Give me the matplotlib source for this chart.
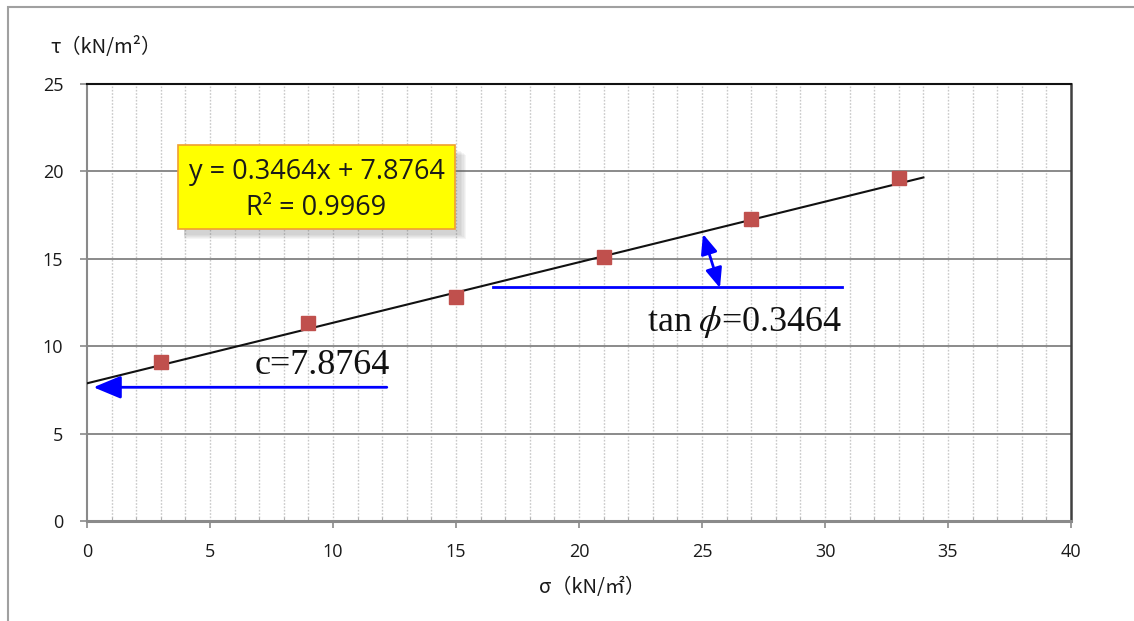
import matplotlib
matplotlib.use("Agg")
import matplotlib.pyplot as plt
from matplotlib.patches import Rectangle, FancyArrowPatch
import numpy as np

# Data
sigma = [3, 9, 15, 21, 27, 33]
tau = [9.1, 11.3, 12.8, 15.1, 17.3, 19.6]
slope = 0.3464
intercept = 7.8764
fit_x = [0, 34]
x_ticks = [0, 5, 10, 15, 20, 25, 30, 35, 40]
y_ticks = [0, 5, 10, 15, 20, 25]
eq_text = "y = 0.3464x + 7.8764"
r2_text = "R² = 0.9969"
c_text = "c=7.8764"
tan_text = r"tan$\;\phi$=0.3464"

plt.rcParams['mathtext.fontset'] = 'stix'
plt.rcParams['font.family'] = ['Open Sans', 'DejaVu Sans']

fig = plt.figure(figsize=(11.34, 6.21), dpi=100)
ax = fig.add_axes([87/1134, 1-521/621, (1071-87)/1134, (521-84)/621])

# figure frame
fig.patches.append(Rectangle((8/1134, -0.1), 1.2, (1-7/621)+0.1, transform=fig.transFigure,
                             fill=False, edgecolor='#a0a0a0', linewidth=1.5, zorder=0))

ax.set_xlim(0, 40)
ax.set_ylim(0, 25)

# grid
for gx in range(1, 40):
    ax.axvline(gx, color='#c8c8c8', linestyle=(0, (1.2, 1.2)), linewidth=1.0, zorder=0)
for gy in y_ticks[1:-1]:
    ax.axhline(gy, color='#8a8a8a', linewidth=1.4, zorder=0.5)

# trend line
fx = np.array(fit_x, dtype=float)
ax.plot(fx, slope * fx + intercept, color='#111111', linewidth=1.5, zorder=3)

# points
ax.plot(sigma, tau, linestyle='none', marker='s', markersize=10.5,
        color='#C0504D', zorder=4)

# spines
ax.spines['top'].set_color('#111111'); ax.spines['top'].set_linewidth(1.5)
ax.spines['right'].set_color('#404040'); ax.spines['right'].set_linewidth(1.8)
ax.spines['left'].set_color('#8a8a8a'); ax.spines['left'].set_linewidth(1.5)
ax.spines['bottom'].set_color('#8a8a8a'); ax.spines['bottom'].set_linewidth(2.2)

ax.set_xticks(x_ticks)
ax.set_yticks(y_ticks)
ax.set_xticks(range(0, 41), minor=True)
ax.tick_params(axis='both', which='major', direction='out', length=5, width=1.2,
               color='#8a8a8a', labelsize=13, labelcolor='#1a1a1a')
ax.tick_params(axis='x', which='major', pad=11)
ax.tick_params(axis='y', which='major', pad=12)
ax.tick_params(axis='x', which='minor', direction='in', length=3, width=0.8, color='#b0b0b0')

# axis labels
fig.text(50/1134, 1-48/621, "τ（kN/m²）", fontsize=14.5, color='#1a1a1a',
         family=['Noto Sans CJK SC', 'DejaVu Sans'], va='center', ha='left')
fig.text(592/1134, 1-588/621, "σ（kN/㎡）", fontsize=14.5, color='#1a1a1a',
         family=['Noto Sans CJK SC', 'DejaVu Sans'], va='center', ha='center')

# yellow box with shadow
bx0, bx1, by0, by1 = 3.7, 14.96, 16.7, 21.5
for i in range(5):
    ax.add_patch(Rectangle((bx0 + 0.25, by0 - 0.35 - 0.05 * i), bx1 - bx0 + 0.05 * i, by1 - by0,
                           facecolor='#606060', edgecolor='none', alpha=0.06, zorder=5))
ax.add_patch(Rectangle((bx0, by0), bx1 - bx0, by1 - by0, facecolor='#FFFF00',
                       edgecolor='#F0A030', linewidth=1.2, zorder=6))
ax.text((bx0 + bx1) / 2, 19.97, eq_text, ha='center', va='center', fontsize=19.5,
        color='#1a1a1a', zorder=7, family=['Open Sans', 'DejaVu Sans'])
ax.text((bx0 + bx1) / 2, 17.9, r2_text, ha='center', va='center', fontsize=19.5,
        color='#1a1a1a', zorder=7, family=['Open Sans', 'DejaVu Sans'])

blue = '#0000FF'
# c arrow
ax.add_patch(FancyArrowPatch((12.3, 7.65), (0.15, 7.65),
                             arrowstyle='-|>,head_length=1.2,head_width=0.5',
                             mutation_scale=14, color=blue, linewidth=2, zorder=5))
ax.text(12.3, 8.9, c_text, ha='right', va='center', fontsize=26,
        family='Liberation Serif', color='#111111', zorder=5)

# tan line and double arrow
ax.plot([16.5, 30.7], [13.39, 13.39], color=blue, linewidth=2, zorder=5)
ax.add_patch(FancyArrowPatch((25.04, 16.42), (25.73, 13.33),
                             arrowstyle='<|-|>,head_length=1.2,head_width=0.5',
                             mutation_scale=10, color=blue, linewidth=2, zorder=5,
                             shrinkA=0, shrinkB=0))
ax.text(30.7, 11.4, tan_text, ha='right', va='center', fontsize=26,
        family='Liberation Serif', color='#111111', zorder=5)

fig.savefig("out.png", dpi=100)
